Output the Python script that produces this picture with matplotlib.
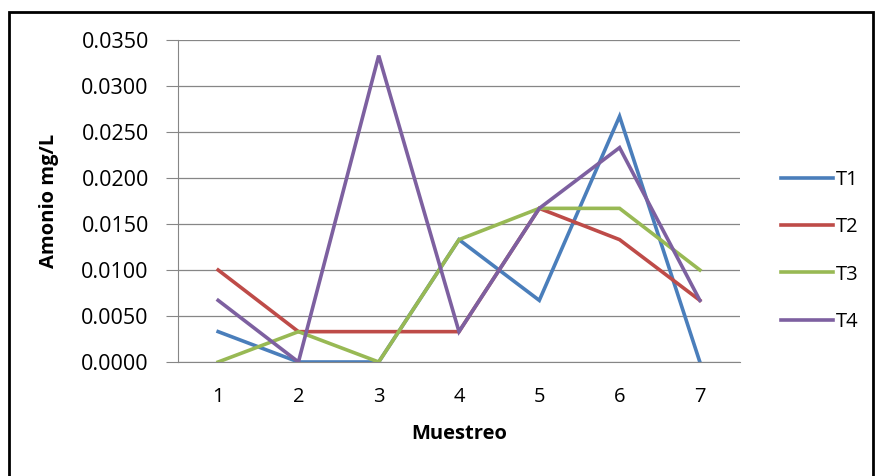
import matplotlib
matplotlib.use("Agg")
import matplotlib.pyplot as plt
from matplotlib.patches import Rectangle

samples = [1, 2, 3, 4, 5, 6, 7]
t1 = [0.0033, 0.0, 0.0, 0.0133, 0.0067, 0.0267, 0.0]
t2 = [0.0100, 0.0033, 0.0033, 0.0033, 0.0167, 0.0133, 0.0067]
t3 = [0.0, 0.0033, 0.0, 0.0133, 0.0167, 0.0167, 0.0100]
t4 = [0.0067, 0.0, 0.0333, 0.0033, 0.0167, 0.0233, 0.0067]
series_names = ["T1", "T2", "T3", "T4"]
colors = ["#4A7EBB", "#BE4B48", "#98B954", "#7D60A0"]
yticks = [0.0, 0.005, 0.010, 0.015, 0.020, 0.025, 0.030, 0.035]

plt.rcParams['font.family'] = ['Open Sans', 'DejaVu Sans']

fig = plt.figure(figsize=(8.76, 4.76), dpi=100)
W, H = 876, 476
ax = fig.add_axes([178 / W, 1 - 362 / H, (740 - 178) / W, (362 - 40) / H])

for vals, name, c in zip([t1, t2, t3, t4], series_names, colors):
    ax.plot(samples, vals, color=c, lw=2.6, label=name, solid_joinstyle='miter')

ax.set_xlim(0.5, 7.5)
ax.set_ylim(0, 0.035)
ax.set_yticks(yticks)
ax.set_yticklabels([f"{v:.4f}" for v in yticks], fontsize=15.5)
ax.set_xticks(samples)
ax.set_xticklabels([str(s) for s in samples], fontsize=14.5)
ax.yaxis.grid(True, color="#868686", lw=0.9)
ax.set_axisbelow(True)
for s in ["top", "right"]:
    ax.spines[s].set_visible(False)
ax.spines["left"].set_color("#868686")
ax.spines["bottom"].set_color("#868686")
ax.tick_params(axis='y', length=9, color="#868686", pad=12)
ax.tick_params(axis='x', length=0, pad=18)
ax.set_ylabel("Amonio mg/L", fontsize=14.5, fontweight='bold', labelpad=16)
ax.set_xlabel("Muestreo", fontsize=14.5, fontweight='bold', labelpad=12)

leg = fig.legend(loc='upper left', bbox_to_anchor=(763 / W, 1 - 152 / H),
                 frameon=False, fontsize=14.5, handlelength=2.6, handletextpad=0.1,
                 labelspacing=1.35)

fig.patches.append(Rectangle((9 / W, -0.1), (873 - 9) / W, 1 - 12 / H + 0.1,
                             transform=fig.transFigure, fill=False,
                             edgecolor='black', lw=2))

fig.savefig("out.png", dpi=100)
